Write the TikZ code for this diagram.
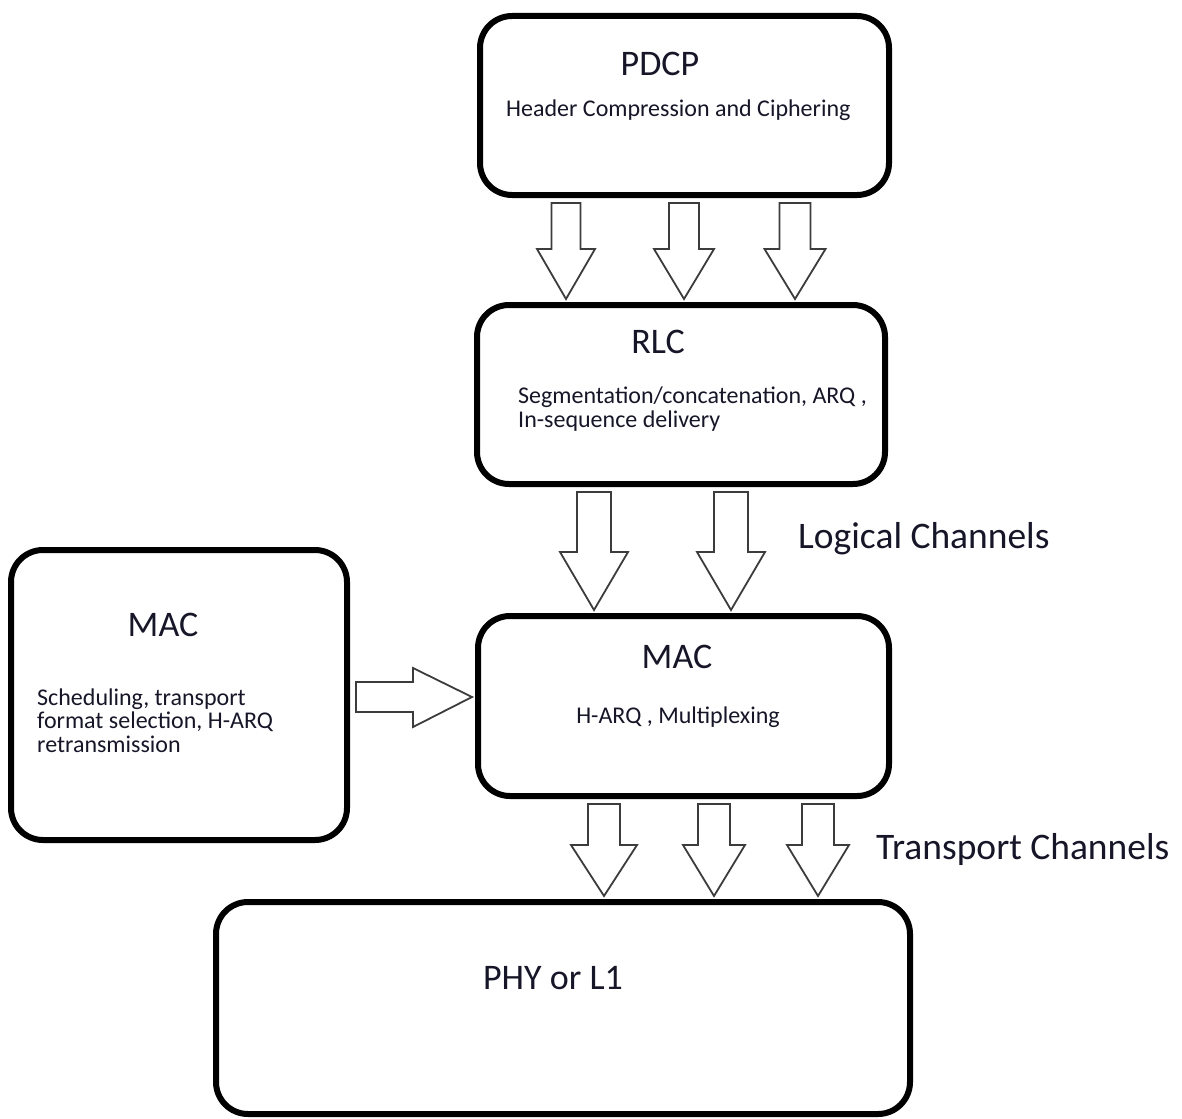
\documentclass[tikz,border=0pt]{standalone}
\usepackage{fontspec}
\setmainfont{Carlito}
\usetikzlibrary{calc}
\definecolor{txt}{RGB}{22,22,40}
\definecolor{arr}{RGB}{60,60,60}
\newcommand\blkdown[6]{% x, src, dst, shaft half width, head half width, head length
  \draw[blk] let \p1=(#2.south), \p2=(#3.north) in
    ({#1pt-#4pt},{\y1-5pt}) -- ({#1pt+#4pt},{\y1-5pt}) -- ({#1pt+#4pt},{\y2+3pt+#6pt}) --
    ({#1pt+#5pt},{\y2+3pt+#6pt}) -- ({#1pt},{\y2+3pt}) -- ({#1pt-#5pt},{\y2+3pt+#6pt}) --
    ({#1pt-#4pt},{\y2+3pt+#6pt}) -- cycle;}
\begin{document}
\begin{tikzpicture}[x=1pt,y=-1pt,
  box/.style={draw=black, line width=6pt, rounded corners=32pt, inner sep=0pt, fill=white},
  blk/.style={draw=arr, line width=1.8pt, fill=white, line join=miter},
  title/.style={text=txt, inner sep=0pt, anchor=base, font=\fontsize{36}{40}\selectfont},
  sub/.style={text=txt, inner sep=0pt, font=\fontsize{24}{23.5}\selectfont},
  lbl/.style={text=txt, inner sep=0pt, anchor=base west, font=\fontsize{37.5}{40}\selectfont}]
\useasboundingbox[fill=white] (0,0) rectangle (1182,1118);
% boxes
\node[box, minimum width=409pt, minimum height=179pt] (pdcp) at (684.5,105.5) {};
\node[box, minimum width=408pt, minimum height=179pt] (rlc) at (681,394.5) {};
\node[box, minimum width=336pt, minimum height=290pt] (macL) at (179,695) {};
\node[box, minimum width=411pt, minimum height=180pt] (mac) at (683.5,706) {};
\node[box, minimum width=694pt, minimum height=212pt] (phy) at (563,1008) {};
% texts
\node[title] (tpdcp) at (660,76) {PDCP};
\node[sub, anchor=base west] (spdcp) at (506,117) {Header Compression and Ciphering};
\node[title] (trlc) at (658,353) {RLC};
\node[sub, anchor=base west, align=left] (srlc) at (518,427) {Segmentation/concatenation, ARQ ,\\ In-sequence delivery};
\node[title] (tmacl) at (163,636) {MAC};
\node[sub, anchor=base west, align=left] (smacl) at (37,752) {Scheduling, transport\\ format selection, H-ARQ\\ retransmission};
\node[title] (tmac) at (677,668) {MAC};
\node[sub, anchor=base] (smac) at (678,723) {H-ARQ , Multiplexing};
\node[title] (tphy) at (553,989) {PHY or L1};
\node[lbl] (llog) at (798,548) {Logical Channels};
\node[lbl] (ltr) at (876,859) {Transport Channels};
% block arrows
\blkdown{566}{pdcp}{rlc}{14.5}{29}{50}
\blkdown{684}{pdcp}{rlc}{15}{30}{50}
\blkdown{795}{pdcp}{rlc}{15.5}{30.5}{50}
\blkdown{594}{rlc}{mac}{17}{34}{58}
\blkdown{731}{rlc}{mac}{17}{34}{58}
\blkdown{604}{mac}{phy}{16}{33}{51}
\blkdown{714}{mac}{phy}{16}{31}{51}
\blkdown{818}{mac}{phy}{16}{31}{51}
\draw[blk] let \p1=(macL.east), \p2=(mac.west) in
  ({\x1+6pt},-682pt) -- ({\x2-62pt},-682pt) -- ({\x2-62pt},-668pt) -- ({\x2-3pt},-697pt) --
  ({\x2-62pt},-727pt) -- ({\x2-62pt},-712pt) -- ({\x1+6pt},-712pt) -- cycle;
\end{tikzpicture}
\end{document}
